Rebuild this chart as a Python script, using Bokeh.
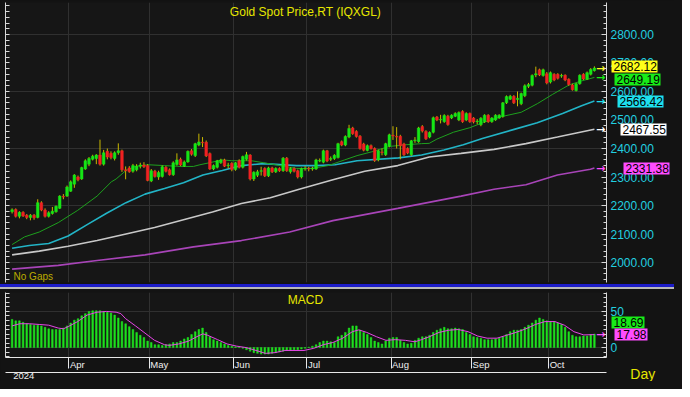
from bokeh.plotting import figure
from bokeh.layouts import column
from bokeh.models import (Range1d, LinearAxis, FixedTicker, NumeralTickFormatter,
                          Label, ColumnDataSource, Grid)
from bokeh.core.properties import value
from bokeh.embed import file_html
from bokeh.resources import INLINE

# ---------------- data ----------------
title_text = "Gold Spot Price,RT (IQXGL)"
months = ["Apr", "May", "Jun", "Jul", "Aug", "Sep", "Oct"]
month_start = [15.5, 37.5, 60.5, 80.5, 103.5, 125.5, 146.5]   # bar index of month boundaries
year_label = "2024"

opens = [
    2178, 2186, 2162, 2176, 2166, 2158, 2166, 2158, 2210, 2184,
    2162, 2172, 2178, 2190, 2232, 2233, 2250, 2275, 2300, 2293,
    2328, 2345, 2362, 2365, 2377, 2345, 2390, 2383, 2365, 2385,
    2392, 2325, 2332, 2320, 2325, 2338, 2342, 2340, 2286, 2320,
    2300, 2302, 2334, 2325, 2308, 2344, 2362, 2338, 2353, 2392,
    2375, 2412, 2422, 2422, 2382, 2328, 2334, 2350, 2360, 2340,
    2348, 2326, 2357, 2334, 2362, 2377, 2293, 2306, 2320, 2330,
    2304, 2332, 2318, 2330, 2322, 2366, 2318, 2330, 2322, 2300,
    2328, 2330, 2328, 2328, 2356, 2352, 2392, 2362, 2365, 2368,
    2424, 2412, 2440, 2472, 2460, 2443, 2416, 2393, 2410, 2400,
    2360, 2388, 2378, 2408, 2446, 2442, 2443, 2416, 2400, 2378,
    2428, 2424, 2477, 2460, 2440, 2457, 2510, 2500, 2494, 2513,
    2507, 2513, 2500, 2530, 2500, 2523, 2507, 2494, 2483, 2494,
    2517, 2494, 2500, 2507, 2512, 2560, 2573, 2583, 2572, 2557,
    2585, 2618, 2622, 2658, 2676, 2656, 2662, 2633, 2660, 2660,
    2654, 2657, 2643, 2623, 2603, 2627, 2660, 2643, 2660, 2673,
]
highs = [
    2190, 2190, 2180, 2180, 2170, 2170, 2170, 2222, 2215, 2190,
    2180, 2195, 2200, 2236, 2240, 2270, 2288, 2310, 2305, 2336,
    2362, 2370, 2378, 2380, 2431, 2395, 2400, 2390, 2390, 2418,
    2396, 2337, 2338, 2346, 2345, 2350, 2352, 2345, 2328, 2325,
    2322, 2340, 2338, 2330, 2355, 2383, 2368, 2358, 2393, 2398,
    2420, 2452, 2440, 2428, 2386, 2344, 2360, 2364, 2364, 2350,
    2352, 2352, 2362, 2375, 2388, 2380, 2320, 2325, 2336, 2334,
    2336, 2336, 2334, 2334, 2370, 2370, 2334, 2334, 2326, 2333,
    2338, 2336, 2336, 2364, 2365, 2396, 2395, 2372, 2380, 2420,
    2428, 2446, 2483, 2476, 2464, 2447, 2420, 2414, 2414, 2404,
    2396, 2400, 2420, 2452, 2478, 2475, 2448, 2420, 2404, 2430,
    2440, 2476, 2482, 2464, 2460, 2512, 2514, 2518, 2520, 2518,
    2520, 2527, 2530, 2534, 2527, 2526, 2510, 2503, 2510, 2520,
    2520, 2510, 2520, 2520, 2563, 2586, 2588, 2587, 2600, 2596,
    2625, 2630, 2660, 2687, 2680, 2680, 2668, 2670, 2664, 2664,
    2662, 2660, 2646, 2627, 2630, 2660, 2664, 2670, 2682, 2688,
]
lows = [
    2172, 2158, 2155, 2160, 2152, 2148, 2150, 2155, 2180, 2158,
    2158, 2168, 2175, 2188, 2222, 2230, 2248, 2262, 2285, 2290,
    2325, 2338, 2358, 2345, 2340, 2340, 2362, 2362, 2358, 2378,
    2318, 2292, 2315, 2315, 2320, 2330, 2332, 2285, 2282, 2298,
    2290, 2298, 2316, 2305, 2304, 2340, 2338, 2335, 2350, 2375,
    2370, 2408, 2405, 2370, 2325, 2324, 2330, 2346, 2335, 2330,
    2320, 2322, 2330, 2330, 2358, 2288, 2286, 2300, 2305, 2300,
    2300, 2314, 2314, 2318, 2318, 2318, 2312, 2316, 2295, 2295,
    2322, 2320, 2322, 2325, 2352, 2348, 2352, 2356, 2360, 2365,
    2408, 2408, 2436, 2448, 2438, 2396, 2390, 2390, 2396, 2353,
    2355, 2376, 2374, 2404, 2430, 2400, 2362, 2374, 2380, 2374,
    2420, 2420, 2456, 2430, 2436, 2453, 2496, 2488, 2490, 2480,
    2503, 2510, 2496, 2490, 2496, 2490, 2488, 2485, 2478, 2490,
    2490, 2490, 2497, 2504, 2508, 2556, 2570, 2556, 2548, 2552,
    2580, 2612, 2618, 2650, 2654, 2652, 2625, 2628, 2636, 2642,
    2648, 2636, 2620, 2603, 2600, 2624, 2640, 2640, 2656, 2670,
]
closes = [
    2185, 2162, 2176, 2163, 2158, 2166, 2157, 2210, 2184, 2162,
    2175, 2180, 2197, 2233, 2230, 2265, 2283, 2307, 2290, 2333,
    2357, 2365, 2373, 2377, 2345, 2385, 2370, 2368, 2385, 2392,
    2325, 2322, 2318, 2340, 2338, 2342, 2336, 2288, 2322, 2302,
    2316, 2336, 2320, 2308, 2350, 2360, 2342, 2353, 2390, 2380,
    2417, 2423, 2420, 2374, 2328, 2340, 2357, 2360, 2338, 2342,
    2326, 2350, 2334, 2372, 2378, 2293, 2317, 2318, 2322, 2304,
    2332, 2318, 2330, 2322, 2366, 2322, 2330, 2320, 2300, 2330,
    2330, 2328, 2331, 2360, 2358, 2392, 2356, 2365, 2376, 2417,
    2412, 2442, 2470, 2452, 2442, 2400, 2394, 2410, 2400, 2358,
    2392, 2386, 2417, 2448, 2444, 2440, 2410, 2378, 2384, 2427,
    2430, 2472, 2461, 2434, 2456, 2508, 2500, 2502, 2516, 2484,
    2517, 2523, 2526, 2494, 2523, 2494, 2493, 2496, 2506, 2517,
    2494, 2507, 2517, 2517, 2560, 2582, 2583, 2560, 2576, 2593,
    2620, 2624, 2656, 2662, 2658, 2676, 2630, 2666, 2640, 2646,
    2656, 2640, 2624, 2606, 2627, 2657, 2644, 2666, 2677, 2682.12,
]

# moving averages (bar index, value)
ma_green_x = [0, 3.4, 7.4, 12.6, 17.9, 23.2, 27.1, 28.4, 31.1, 33.7, 37.1, 41.6, 46.1, 49.5, 51.3,
              53.9, 57.4, 60, 65.3, 68.7, 73.2, 77.6, 81.8, 86.3, 90.8, 94.2, 98.7, 102.9, 107.4,
              111.8, 113.9, 116, 120.5, 125, 128.4, 133.7, 139, 143.4, 147.6, 152.1, 155.5, 159]
ma_green_y = [2063, 2090, 2107, 2140, 2183, 2233, 2283, 2293, 2323, 2337, 2343, 2340, 2337, 2337, 2343,
              2350, 2360, 2357, 2357, 2350, 2340, 2330, 2330, 2340, 2360, 2375, 2390, 2407, 2413,
              2417, 2418, 2433, 2457, 2473, 2490, 2512, 2527, 2557, 2590, 2623, 2637, 2649.19]
ma_cyan_x = [0, 4.7, 10, 15.3, 20.5, 25.8, 31.1, 36.3, 41.6, 46.8, 52.1, 57.4, 62.6, 68.7, 77.6,
             82.9, 88.2, 94.2, 105.5, 111.8, 117.9, 123.2, 128.4, 137.1, 143.4, 150.3, 155.5, 159]
ma_cyan_y = [2050, 2060, 2067, 2093, 2133, 2173, 2210, 2240, 2260, 2280, 2307, 2323, 2340, 2347, 2340,
             2340, 2343, 2357, 2367, 2377, 2395, 2413, 2435, 2467, 2490, 2523, 2550, 2566.42]
ma_white_x = [0, 7.4, 15.3, 23.2, 31.1, 38.9, 46.8, 54.7, 62.6, 70.5, 78.4, 87.6, 96.3, 105.3,
              113.9, 122.6, 131.6, 140.3, 148.9, 159]
ma_white_y = [2027, 2040, 2057, 2077, 2100, 2123, 2150, 2177, 2207, 2227, 2257, 2290, 2320, 2340,
              2370, 2383, 2397, 2417, 2440, 2467.55]
ma_magenta_x = [0, 12.6, 23.2, 36.3, 49.5, 62.6, 75.8, 87.6, 105.3, 122.6, 131.6, 140.3, 148.9, 157.9, 159]
ma_magenta_y = [1977, 1990, 2007, 2027, 2055, 2077, 2107, 2147, 2190, 2233, 2257, 2273, 2307, 2327, 2331.38]

price_tags = [2682.12, 2649.19, 2566.42, 2467.55, 2331.38]

# MACD (one bar per day) and its signal line
macd_hist = [
    39, 37, 37, 35, 33, 32, 31, 31, 30, 28,
    26, 25, 25, 25, 27, 30, 34, 38, 40, 44,
    47, 50, 51, 51, 51, 50, 49, 48, 45, 41,
    36, 33, 29, 25, 21, 17, 14, 9, 7, 4,
    4, 3, 4, 5, 7, 7, 9, 12, 14, 18,
    22, 25, 27, 21, 15, 11, 9, 7, 5, 3,
    2, 1, 0.5, -1, -3, -5, -7, -8, -9, -9,
    -9, -8, -7, -6, -5, -4, -4, -3, -3, -2,
    -1, 0.5, 2, 4, 7, 9, 9, 8, 7, 15,
    17, 21, 27, 30, 30, 24, 21, 18, 14, 9,
    7, 5, 9, 13, 14, 14, 10, 7, 5, 6,
    10, 13, 15, 15, 17, 21, 24, 26, 28, 26,
    26, 27, 26, 25, 21, 18, 15, 14, 13, 11,
    11, 11, 12, 13, 15, 18, 22, 24, 24, 25,
    28, 31, 34, 38, 41, 39, 37, 36, 36, 34,
    32, 28, 22, 17, 15, 15, 16, 16, 18, 18.69,
]
signal_x = [0, 2.1, 4.7, 7.4, 10, 12.6, 14, 15.3, 17.9, 20.5, 23.2, 25.8, 28.4, 29.7, 31, 33.7,
            36.3, 38.9, 41.6, 42.9, 45.5, 48.2, 50.8, 52.1, 53.4, 56.1, 58.7, 61.3, 63.9, 66.6,
            69.2, 71.8, 74.5, 79.7, 82.4, 85, 87.6, 90.3, 92.9, 94.7, 96.8, 99.5, 102.1, 104.7,
            107.4, 110, 111.8, 113.9, 116.6, 119.2, 121.8, 124.5, 127.1, 129.7, 132.4, 135,
            137.6, 140.3, 142.9, 145.5, 148.2, 150.8, 153.4, 156.1, 159]
signal_y = [30, 33, 33, 32, 31, 27, 26, 29, 36, 45, 49, 50, 49, 47, 40, 30,
            20, 10, 4, 3, 5, 9, 16, 19, 17, 11, 5, 2, 0, -4,
            -8, -7, -4, -4, -1, 4, 7, 13, 22, 24.5, 21, 15, 10, 11,
            10, 8, 11, 15, 21, 24, 25, 22, 16, 13, 13, 17,
            21, 26, 32, 36, 36, 31, 22, 17.5, 17.98]
macd_tags = [18.69, 17.98]

# ---------------- styling ----------------
FONT = "Liberation Sans"
BG = "#161616"
BORDER = "#131313"
GRID = "#303030"
AX = "#d8d8d8"
CYAN_TXT = "#22d0e0"
YELLOW = "#e6e600"
UP = "#16e616"
DOWN = "#f02222"
WICK = "#c8b800"
W = 674
RB = 59                      # right border width (axis + value tags)
XR = Range1d(-1.8, 162.3)
ARROW_X = 160.7

idx = list(range(len(closes)))
src = ColumnDataSource(dict(
    x=idx, o=opens, h=highs, l=lows, c=closes,
    top=[max(a, b) for a, b in zip(opens, closes)],
    bot=[min(a, b) for a, b in zip(opens, closes)],
    col=[UP if c >= o else DOWN for o, c in zip(opens, closes)],
))


def tick_only_axis(fig, minor):
    ax = LinearAxis(ticker=FixedTicker(ticks=[], minor_ticks=minor),
                    major_tick_in=0, major_tick_out=0, minor_tick_in=4, minor_tick_out=0,
                    axis_line_color=AX, minor_tick_line_color=AX)
    fig.add_layout(ax, "left")


def tag_axis(fig, pos, text, color, tick_in, tick_out, standoff):
    # a value tag drawn by an axis: the thick tick is the coloured box, the label the value
    ax = LinearAxis(ticker=FixedTicker(ticks=[pos], minor_ticks=[]),
                    major_label_overrides={pos: text},
                    major_label_text_color="#000000", major_label_text_font=FONT,
                    major_label_text_font_size="12px", major_label_standoff=standoff,
                    major_tick_in=tick_in, major_tick_out=tick_out,
                    major_tick_line_color=color, major_tick_line_width=12,
                    minor_tick_in=0, minor_tick_out=0, axis_line_color=None)
    fig.add_layout(ax, "right")


# ---------------- price pane ----------------
p = figure(width=W, height=284, x_range=XR, y_range=Range1d(1930, 2912),
           output_backend="svg", toolbar_location=None,
           x_axis_location=None, y_axis_location=None,
           background_fill_color=BG, border_fill_color=BORDER, outline_line_color=None,
           min_border_left=5, min_border_right=RB, min_border_top=2, min_border_bottom=2)
p.xgrid.visible = False
p.ygrid.visible = False
p.add_layout(Grid(dimension=0, ticker=FixedTicker(ticks=month_start), grid_line_color=GRID))
p.add_layout(Grid(dimension=1, ticker=FixedTicker(ticks=[2000, 2200, 2400, 2600, 2800]),
                  grid_line_color=GRID))

price_major = list(range(2000, 2801, 100))
price_minor = list(range(1940, 2911, 20))
tick_only_axis(p, price_minor)
yr = LinearAxis(ticker=FixedTicker(ticks=price_major, minor_ticks=price_minor),
                formatter=NumeralTickFormatter(format="0.00"),
                major_label_text_color=CYAN_TXT, major_label_text_font=FONT,
                major_label_text_font_size="12px", major_label_standoff=4,
                major_tick_in=5, major_tick_out=0, minor_tick_in=3, minor_tick_out=0,
                axis_line_color=AX, major_tick_line_color=AX, minor_tick_line_color=AX)
p.add_layout(yr, "right")

p.line(ma_magenta_x, ma_magenta_y, line_color="#a844b8", line_width=1.6)
p.line(ma_white_x, ma_white_y, line_color="#c8c8c8", line_width=1.6)
p.line(ma_cyan_x, ma_cyan_y, line_color="#22b4c6", line_width=1.6)
p.line(ma_green_x, ma_green_y, line_color="#1ea01e", line_width=1)

p.segment(x0="x", y0="l", x1="x", y1="h", line_color=WICK, line_width=1, source=src)
p.vbar(x="x", width=0.72, top="top", bottom="bot", fill_color="col", line_color="col",
       line_width=0.5, source=src)

tag_colors = ["#ffff1a", "#18ec18", "#1ee0ee", "#ffffff", "#ff4cff"]
tag_shift = [6, -8, 0, 0, 0]          # nudges so neighbouring tags do not overlap
arrow_src = ColumnDataSource(dict(x=[ARROW_X] * len(price_tags), y=price_tags,
                                  t=["\u2192"] * len(price_tags), c=tag_colors))
p.text(x="x", y="y", text="t", text_color="c", source=arrow_src,
       text_font=value("DejaVu Sans"), text_font_size=value("11px"), text_font_style="bold",
       text_align="center", text_baseline="middle")
for v, col, sh in zip(price_tags, tag_colors, tag_shift):
    tag_axis(p, v + sh, f"{v:.2f}", col, tick_in=45, tick_out=1, standoff=-44)

p.add_layout(Label(x=80.1, y=2877, text=title_text, text_font=FONT, text_font_size="12px",
                   text_color=YELLOW, text_align="center", text_baseline="middle"))
p.add_layout(Label(x=0.4, y=1950, text="No Gaps", text_font=FONT, text_font_size="10px",
                   text_color="#bcac00", text_align="left", text_baseline="middle"))

# ---------------- MACD pane ----------------
m = figure(width=W, height=92, x_range=XR, y_range=Range1d(-13.75, 76.25),
           output_backend="svg", toolbar_location=None,
           x_axis_location=None, y_axis_location=None,
           background_fill_color=BG, border_fill_color=BORDER, outline_line_color=None,
           min_border_left=5, min_border_right=RB, min_border_top=3, min_border_bottom=2)
m.xgrid.visible = False
m.ygrid.visible = False
m.add_layout(Grid(dimension=0, ticker=FixedTicker(ticks=month_start), grid_line_color=GRID))
m.add_layout(Grid(dimension=1, ticker=FixedTicker(ticks=[0, 50]), grid_line_color=GRID))

macd_minor = [-12.5 + 6.25 * k for k in range(15)]
tick_only_axis(m, macd_minor)
mr = LinearAxis(ticker=FixedTicker(ticks=[0, 50], minor_ticks=macd_minor),
                major_label_text_color=CYAN_TXT, major_label_text_font=FONT,
                major_label_text_font_size="12px", major_label_standoff=4,
                major_tick_in=5, major_tick_out=0, minor_tick_in=3, minor_tick_out=0,
                axis_line_color=AX, major_tick_line_color=AX, minor_tick_line_color=AX)
m.add_layout(mr, "right")

label_shift = [2.3, 2.7, 2.35, 1.95, 2.55, 2.55, 2.3]
label_pos = [round(b + s, 2) for b, s in zip(month_start, label_shift)]
mx = LinearAxis(ticker=FixedTicker(ticks=label_pos, minor_ticks=month_start),
                major_label_overrides=dict(zip(label_pos, months)),
                major_label_text_color="#f0f0f0", major_label_text_font=FONT,
                major_label_text_font_size="9.5px", major_label_standoff=-10,
                major_tick_in=0, major_tick_out=0, minor_tick_in=0, minor_tick_out=11,
                axis_line_color="#e8e8e8", minor_tick_line_color="#e8e8e8")
m.add_layout(mx, "below")
year_pos = 3.2
my = LinearAxis(ticker=FixedTicker(ticks=[year_pos], minor_ticks=[]),
                major_label_overrides={year_pos: year_label},
                major_label_text_color="#f0f0f0", major_label_text_font=FONT,
                major_label_text_font_size="9.5px", major_label_standoff=0,
                major_tick_in=0, major_tick_out=0, minor_tick_in=0, minor_tick_out=0,
                axis_line_color="#e8e8e8")
m.add_layout(my, "below")

m.vbar(x=idx, top=macd_hist, bottom=0, width=0.45, fill_color="#1ee21e", line_color="#1ee21e",
       line_width=0.5)
m.line(signal_x, signal_y, line_color="#e646e6", line_width=1)

m.text(x=[ARROW_X], y=[macd_tags[1]], text=["\u2192"], text_color="#ff4cff",
       text_font=value("DejaVu Sans"), text_font_size=value("11px"), text_font_style="bold",
       text_align="center", text_baseline="middle")
tag_axis(m, macd_tags[1] + 17, f"{macd_tags[0]:.2f}", "#18ec18", tick_in=15, tick_out=18, standoff=-31)
tag_axis(m, macd_tags[1], f"{macd_tags[1]:.2f}", "#ff4cff", tick_in=32, tick_out=1, standoff=-31)
m.add_layout(Label(x=80.1, y=66, text="MACD", text_font=FONT, text_font_size="12px",
                   text_color=YELLOW, text_align="center", text_baseline="middle"))
m.add_layout(Label(x=168.8, y=-36, text="Day", text_font=FONT, text_font_size="14px",
                   text_color=YELLOW, text_align="left", text_baseline="middle"), "right")

layout = column(p, m, spacing=5, styles={
    "box-shadow": "3px 3px 0 5px #131313, 0 0 0 5px #131313, 0 0 0 8px #1c1cc8",
    "background": "linear-gradient(to bottom, #131313 0px, #131313 284px, #1c1cc8 284px, "
                  "#1c1cc8 287px, #b8b8b8 287px, #b8b8b8 289px, #131313 289px, #131313 100%)",
})

open("out.html", "w").write(file_html(layout, INLINE))
